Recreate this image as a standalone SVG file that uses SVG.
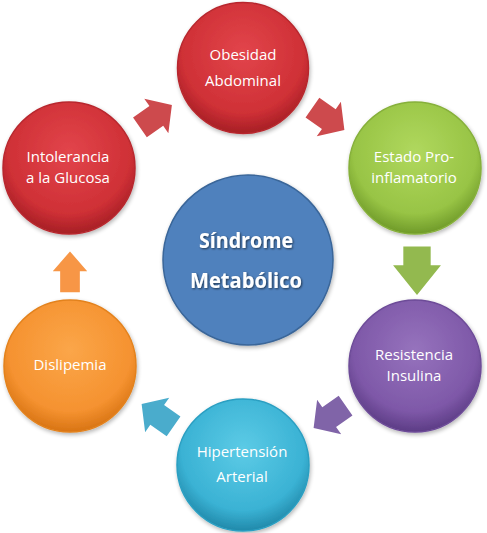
<svg xmlns="http://www.w3.org/2000/svg" width="487" height="533" viewBox="0 0 487 533">
<style>
.lbl{font-family:"Open Sans","Liberation Sans",sans-serif;font-size:15px;fill:#ffffff;text-anchor:middle}
.ctr{font-family:"Open Sans","Liberation Sans",sans-serif;font-size:22px;font-weight:bold;fill:#ffffff;text-anchor:middle}
.ring{stroke-width:1.5}
</style>
<defs>
<radialGradient id="gRed" cx="50%" cy="38%" r="62%">
<stop offset="0" stop-color="#e2454b"/><stop offset="0.75" stop-color="#cf3036"/><stop offset="1" stop-color="#a61f25"/>
</radialGradient>
<radialGradient id="gGreen" cx="50%" cy="38%" r="62%">
<stop offset="0" stop-color="#b0d85e"/><stop offset="0.75" stop-color="#98c445"/><stop offset="1" stop-color="#6f9a29"/>
</radialGradient>
<radialGradient id="gPurple" cx="50%" cy="38%" r="62%">
<stop offset="0" stop-color="#9673bd"/><stop offset="0.75" stop-color="#7e58a8"/><stop offset="1" stop-color="#5c3c85"/>
</radialGradient>
<radialGradient id="gTeal" cx="50%" cy="38%" r="62%">
<stop offset="0" stop-color="#5ccbe6"/><stop offset="0.75" stop-color="#3ab2d4"/><stop offset="1" stop-color="#2189aa"/>
</radialGradient>
<radialGradient id="gOrange" cx="50%" cy="38%" r="62%">
<stop offset="0" stop-color="#fba649"/><stop offset="0.75" stop-color="#f59230"/><stop offset="1" stop-color="#d87414"/>
</radialGradient>
<filter id="sh" x="-20%" y="-20%" width="140%" height="140%">
<feGaussianBlur in="SourceAlpha" stdDeviation="2"/><feOffset dx="1" dy="2" result="b"/>
<feComponentTransfer><feFuncA type="linear" slope="0.3"/></feComponentTransfer>
<feMerge><feMergeNode/><feMergeNode in="SourceGraphic"/></feMerge>
</filter>
<filter id="tsh" x="-10%" y="-20%" width="120%" height="140%">
<feGaussianBlur in="SourceAlpha" stdDeviation="1"/><feOffset dx="1" dy="1"/>
<feComponentTransfer><feFuncA type="linear" slope="0.6"/></feComponentTransfer>
<feMerge><feMergeNode/><feMergeNode in="SourceGraphic"/></feMerge>
</filter>
<path id="arr" d="M-19,-12 L1,-12 L1,-21 L20,0 L1,21 L1,12 L-19,12 Z"/>
<path id="arrV" d="M-20,-12 L-3,-12 L-3,-21 L24,0 L-3,21 L-3,12 L-20,12 Z"/>
</defs>
<rect width="487" height="533" fill="#ffffff"/>

<g id="connectors">
<use href="#arr" fill="#cd4a4d" transform="translate(155.5,116.5) rotate(-35)"/>
<use href="#arr" fill="#cd4a4d" transform="translate(328,118.5) rotate(35)"/>
<use href="#arrV" fill="#93b94f" transform="translate(417,268.5) rotate(90) scale(1.1,1.14)"/>
<use href="#arr" fill="#8064a8" transform="translate(330,416.5) rotate(145)"/>
<use href="#arr" fill="#4aaccc" transform="translate(158,415.5) rotate(215)"/>
<use href="#arr" fill="#f79646" transform="translate(70,272.4) rotate(-90) scale(1.05,0.82)"/>
</g>

<g id="center">
<circle cx="248" cy="260" r="85" fill="#4f81bd" stroke="#3a6699" stroke-width="1.5" filter="url(#sh)"/>
<g filter="url(#tsh)">
<text class="ctr" x="246" y="248" textLength="94" lengthAdjust="spacingAndGlyphs">Síndrome</text>
<text class="ctr" x="246" y="288" textLength="112" lengthAdjust="spacingAndGlyphs">Metabólico</text>
</g>
</g>

<g id="obesidad">
<circle class="ring" cx="243" cy="68" r="65.5" fill="url(#gRed)" stroke="#b8282e" filter="url(#sh)"/>
<text class="lbl" x="243" y="60">Obesidad</text>
<text class="lbl" x="243" y="86">Abdominal</text>
</g>

<g id="estado">
<circle class="ring" cx="415" cy="168" r="66" fill="url(#gGreen)" stroke="#86b03a" filter="url(#sh)"/>
<text class="lbl" x="414" y="162">Estado Pro-</text>
<text class="lbl" x="414" y="183">inflamatorio</text>
</g>

<g id="resistencia">
<circle class="ring" cx="415" cy="366" r="66" fill="url(#gPurple)" stroke="#6d4b98" filter="url(#sh)"/>
<text class="lbl" x="414" y="360">Resistencia</text>
<text class="lbl" x="414" y="381">Insulina</text>
</g>

<g id="hipertension">
<circle class="ring" cx="243" cy="465" r="66" fill="url(#gTeal)" stroke="#2a9fc2" filter="url(#sh)"/>
<text class="lbl" x="242" y="457">Hipertensión</text>
<text class="lbl" x="242" y="482">Arterial</text>
</g>

<g id="dislipemia">
<circle class="ring" cx="70" cy="366" r="66" fill="url(#gOrange)" stroke="#e3821d" filter="url(#sh)"/>
<text class="lbl" x="70" y="370">Dislipemia</text>
</g>

<g id="intolerancia">
<circle class="ring" cx="69" cy="168" r="66" fill="url(#gRed)" stroke="#b8282e" filter="url(#sh)"/>
<text class="lbl" x="68" y="162">Intolerancia</text>
<text class="lbl" x="68" y="183">a la Glucosa</text>
</g>
</svg>
